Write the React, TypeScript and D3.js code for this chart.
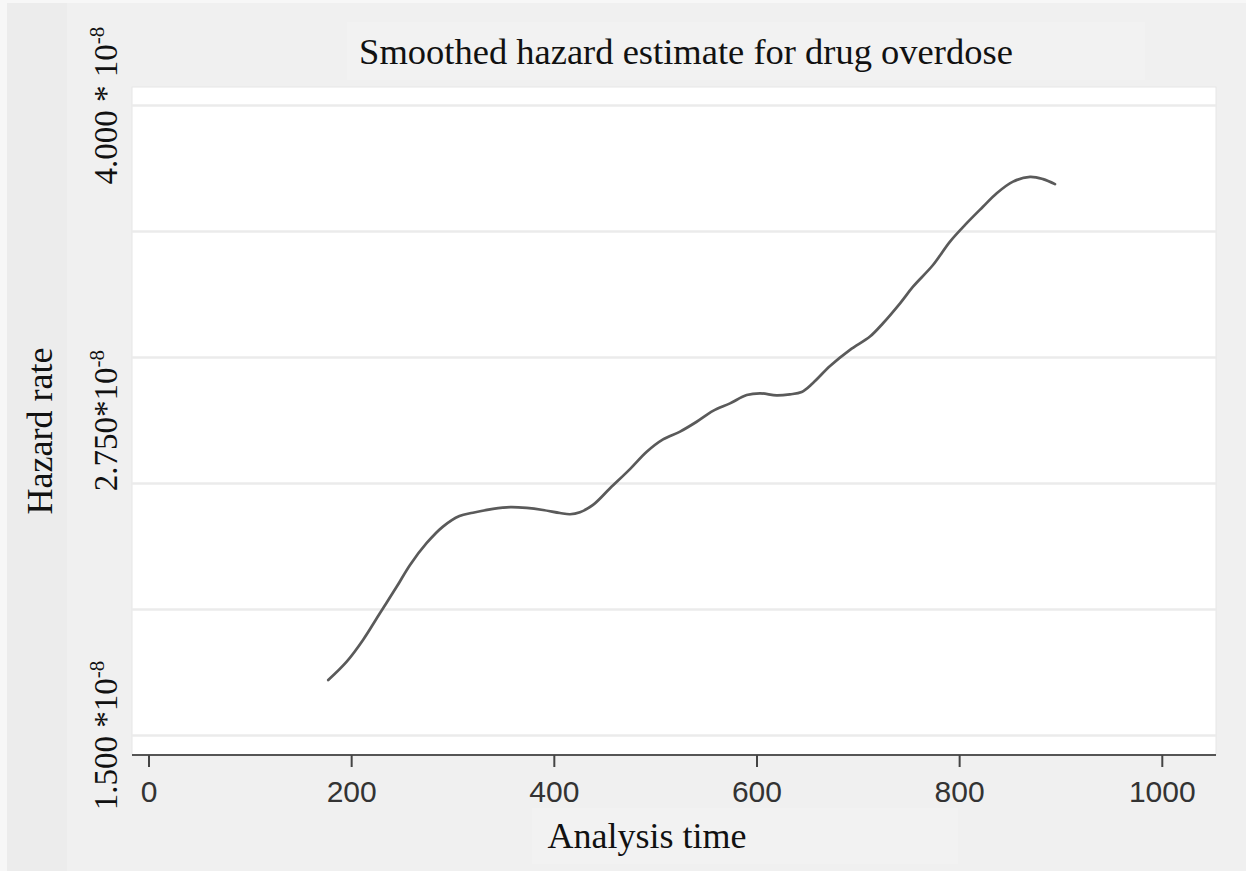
import React from "react";
import * as d3 from "d3";

// Smoothed hazard estimate (values in units of 1e-8)
const analysisTime: number[] = [
  176.9, 195.1, 211.2, 228.0, 244.4, 257.6, 274.1, 290.1, 306.4, 319.7, 339.5,
  356.3, 372.7, 388.8, 405.6, 415.5, 425.3, 438.2, 455.0, 474.9, 491.2, 507.3,
  524.1, 540.5, 556.6, 573.4, 589.9, 603.0, 619.4, 632.5, 644.1, 655.3, 672.1,
  691.8, 711.5, 724.4, 741.2, 754.0, 773.7, 790.5, 807.0, 823.0, 836.6, 852.7,
  869.5, 882.3, 894.1,
];
const hazardRate: number[] = [
  1.72, 1.793, 1.879, 1.986, 2.09, 2.177, 2.264, 2.329, 2.371, 2.384, 2.399,
  2.406, 2.403, 2.395, 2.383, 2.378, 2.386, 2.415, 2.481, 2.558, 2.626, 2.675,
  2.706, 2.745, 2.788, 2.818, 2.851, 2.858, 2.85, 2.854, 2.863, 2.899, 2.966,
  3.03, 3.083, 3.136, 3.215, 3.281, 3.367, 3.46, 3.533, 3.598, 3.652, 3.698,
  3.717, 3.708, 3.688,
];

const xTicks: number[] = [0, 200, 400, 600, 800, 1000];
const yGrid: number[] = [1.5, 2.0, 2.5, 3.0, 3.5, 4.0];
const yLabelValues: number[] = [1.5, 2.75, 4.0];
const yLabelText: string[] = ["1.500 *10", "2.750*10", "4.000 * 10"];
const yLabelExp = "-8";

const title = "Smoothed hazard estimate for drug overdose";
const xTitle = "Analysis time";
const yTitle = "Hazard rate";

const W = 1246;
const H = 871;
const plotLeft = 132;
const plotRight = 1216;
const plotTop = 87;
const plotBottom = 755;

export default function App() {
  const x = d3.scaleLinear().domain([0, 1000]).range([149, 1162.3]);
  const y = d3.scaleLinear().domain([1.5, 4.0]).range([735.5, 105.5]);

  const pts: [number, number][] = analysisTime.map((t, i) => [t, hazardRate[i]]);
  const line = d3
    .line<[number, number]>()
    .x((d) => x(d[0]))
    .y((d) => y(d[1]))
    .curve(d3.curveCatmullRom.alpha(0.5));

  const serif = "'Liberation Serif', 'Times New Roman', serif";
  const sans = "'Liberation Sans', Arial, sans-serif";

  return (
    <svg
      width={W}
      height={H}
      style={{ position: "absolute", left: 0, top: 0, display: "block" }}
    >
      {/* background */}
      <rect x={0} y={0} width={W} height={H} fill="#f0f0f0" />
      <rect x={0} y={0} width={W} height={3} fill="#f7f7f7" />
      <rect x={0} y={0} width={7} height={H} fill="#f7f7f7" />
      <rect x={7} y={3} width={60} height={H - 3} fill="#ececec" />
      <rect x={347} y={22} width={798} height={58} fill="#f2f2f2" />
      <rect x={532} y={808} width={426} height={56} fill="#f2f2f2" />

      {/* plot area */}
      <rect
        x={plotLeft}
        y={plotTop}
        width={plotRight - plotLeft}
        height={plotBottom - plotTop}
        fill="#ffffff"
        stroke="#e6e6e6"
        strokeWidth={1}
      />

      {/* gridlines */}
      {yGrid.map((v) => (
        <line
          key={v}
          x1={plotLeft}
          x2={plotRight}
          y1={y(v)}
          y2={y(v)}
          stroke="#ebebeb"
          strokeWidth={2.5}
        />
      ))}

      {/* curve */}
      <path
        d={line(pts) || ""}
        fill="none"
        stroke="#5a5a5a"
        strokeWidth={2.7}
        strokeLinejoin="round"
        strokeLinecap="round"
      />

      {/* x axis */}
      <line
        x1={plotLeft}
        x2={plotRight}
        y1={plotBottom}
        y2={plotBottom}
        stroke="#555555"
        strokeWidth={2.2}
      />
      {xTicks.map((t) => (
        <g key={t}>
          <line
            x1={x(t)}
            x2={x(t)}
            y1={plotBottom}
            y2={plotBottom + 12}
            stroke="#444444"
            strokeWidth={2}
          />
          <text
            x={x(t)}
            y={802}
            textAnchor="middle"
            fontFamily={sans}
            fontSize={30}
            fill="#333333"
          >
            {t}
          </text>
        </g>
      ))}

      {/* y labels */}
      {yLabelValues.map((v, i) => (
        <text
          key={v}
          transform={`translate(117, ${y(v)}) rotate(-90)`}
          textAnchor="middle"
          fontFamily={serif}
          fontSize={33}
          fill="#111111"
        >
          {yLabelText[i]}
          <tspan fontSize={21} dy={-13}>
            {yLabelExp}
          </tspan>
        </text>
      ))}

      {/* titles */}
      <text
        x={686}
        y={64}
        textAnchor="middle"
        fontFamily={serif}
        fontSize={36.5}
        fill="#111111"
      >
        {title}
      </text>
      <text
        x={647}
        y={848}
        textAnchor="middle"
        fontFamily={serif}
        fontSize={36}
        fill="#111111"
      >
        {xTitle}
      </text>
      <text
        transform="translate(52, 431) rotate(-90)"
        textAnchor="middle"
        fontFamily={serif}
        fontSize={36}
        fill="#111111"
      >
        {yTitle}
      </text>
    </svg>
  );
}
